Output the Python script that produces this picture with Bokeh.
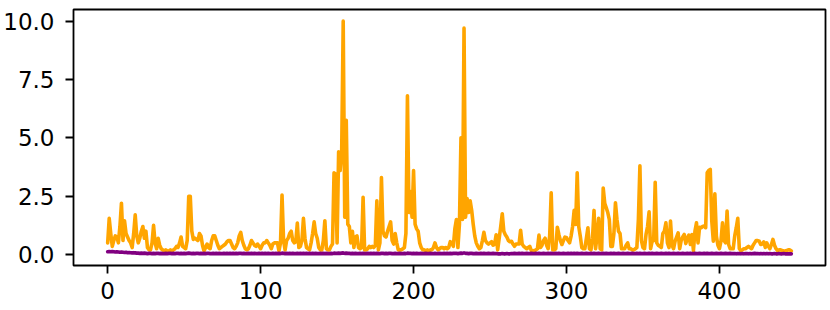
from bokeh.plotting import figure
from bokeh.models import Range1d, FixedTicker, PrintfTickFormatter
from bokeh.embed import file_html
from bokeh.resources import INLINE

# orange series (index 0..447)
orange_vals = [
    0.5, 1.55, 0.9, 0.35, 0.6, 0.8, 0.75, 0.5, 1.2, 2.2,
    0.6, 1.45, 0.9, 0.75, 0.6, 0.5, 0.3, 0.9, 1.7, 0.8,
    0.5, 0.7, 1.0, 1.2, 0.7, 1.0, 0.3, 0.2, 0.2, 0.5,
    1.25, 0.5, 0.25, 0.7, 0.4, 0.25, 0.2, 0.15, 0.2, 0.15,
    0.15, 0.2, 0.15, 0.2, 0.25, 0.35, 0.3, 0.5, 0.75, 0.35,
    0.3, 0.25, 0.6, 2.5, 2.5, 1.0, 0.65, 0.7, 0.65, 0.6,
    0.9, 0.8, 0.4, 0.15, 0.3, 0.45, 0.3, 0.25, 0.6, 0.8,
    0.8, 0.6, 0.4, 0.25, 0.3, 0.35, 0.4, 0.45, 0.55, 0.6,
    0.6, 0.45, 0.3, 0.25, 0.35, 0.5, 0.8, 0.95, 0.6, 0.4,
    0.25, 0.2, 0.25, 0.4, 0.6, 0.5, 0.4, 0.35, 0.45, 0.35,
    0.25, 0.4, 0.5, 0.5, 0.6, 0.5, 0.4, 0.25, 0.45, 0.5,
    0.5, 0.5, 0.15, 0.5, 2.55, 0.6, 0.2, 0.6, 0.7, 0.9,
    1.0, 0.6, 0.5, 0.55, 1.35, 0.3, 0.35, 0.6, 1.55, 0.7,
    0.3, 0.25, 0.2, 0.5, 0.9, 1.4, 0.9, 0.7, 0.3, 0.2,
    0.2, 0.6, 1.45, 0.25, 0.2, 0.2, 0.35, 0.45, 3.5, 3.45,
    0.5, 4.4, 3.6, 4.4, 10.0, 1.6, 5.75, 1.3, 1.2, 0.5,
    1.0, 0.3, 0.75, 0.8, 0.3, 0.25, 0.3, 2.45, 0.2, 0.2,
    0.25, 0.35, 0.3, 0.35, 0.3, 0.4, 2.3, 0.2, 0.5, 3.3,
    1.0, 0.8, 0.75, 1.0, 1.2, 1.4, 0.6, 0.45, 0.9, 0.5,
    0.2, 0.2, 0.2, 0.25, 0.3, 0.9, 6.8, 1.8, 2.7, 1.6,
    3.6, 1.3, 1.1, 1.0, 0.5, 0.3, 0.2, 0.2, 0.15, 0.2,
    0.15, 0.2, 0.2, 0.3, 0.5, 0.3, 0.2, 0.25, 0.3, 0.3,
    0.25, 0.3, 0.25, 0.3, 0.55, 0.5, 0.35, 1.1, 1.5, 0.3,
    1.3, 5.0, 1.5, 9.7, 1.6, 2.4, 1.8, 2.3, 1.9, 1.3,
    0.8, 0.5, 0.35, 0.25, 0.3, 0.6, 0.95, 0.6, 0.5, 0.45,
    0.5, 0.55, 0.4, 0.45, 0.85, 0.2, 0.7, 1.2, 1.75, 1.0,
    0.85, 0.75, 0.6, 0.55, 0.57, 0.45, 0.35, 0.45, 0.45, 0.45,
    1.04, 0.45, 0.35, 0.3, 0.25, 0.3, 0.35, 0.17, 0.15, 0.17,
    0.2, 0.25, 0.83, 0.3, 0.4, 0.6, 0.7, 0.4, 0.25, 0.8,
    2.65, 0.2, 0.2, 0.25, 1.17, 0.86, 0.6, 0.43, 0.6, 0.75,
    0.72, 0.6, 0.5, 0.79, 1.2, 1.89, 1.29, 3.5, 1.2, 0.79,
    0.3, 0.25, 0.25, 0.7, 1.15, 0.25, 0.2, 0.7, 1.89, 0.25,
    0.8, 1.55, 0.25, 0.2, 2.85, 2.2, 2.0, 1.8, 1.5, 0.35,
    0.35, 0.9, 2.22, 1.5, 1.0, 0.9, 0.25, 0.25, 0.25, 0.4,
    0.5, 0.25, 0.25, 0.2, 0.2, 0.25, 0.3, 1.5, 3.8, 0.6,
    0.3, 0.25, 0.86, 1.2, 1.83, 0.25, 0.57, 0.6, 3.1, 0.5,
    0.4, 0.35, 0.3, 0.9, 1.0, 1.36, 0.5, 0.3, 1.43, 0.4,
    0.25, 0.57, 0.75, 0.93, 0.25, 0.6, 0.75, 0.86, 0.47, 0.7,
    0.83, 0.43, 0.86, 0.17, 1.0, 1.36, 0.5, 1.17, 1.15, 1.2,
    1.22, 1.15, 3.5, 3.6, 3.65, 1.43, 0.57, 2.6, 0.79, 0.4,
    0.25, 0.57, 1.36, 0.6, 0.5, 1.86, 0.43, 0.25, 0.25, 0.25,
    0.8, 1.15, 1.55, 0.25, 0.17, 0.2, 0.25, 0.25, 0.3, 0.35,
    0.3, 0.25, 0.4, 0.5, 0.6, 0.6, 0.57, 0.43, 0.45, 0.54,
    0.3, 0.5, 0.35, 0.25, 0.43, 0.65, 0.4, 0.25, 0.17, 0.2,
    0.2, 0.17, 0.15, 0.15, 0.17, 0.2, 0.2, 0.15,
]

# purple series (index 0..447)
purple_vals = [
    0.12, 0.13, 0.12, 0.13, 0.12, 0.11, 0.12, 0.11, 0.10, 0.11,
    0.10, 0.09, 0.10, 0.08, 0.09, 0.08, 0.07, 0.08, 0.07, 0.06,
    0.06, 0.05, 0.06, 0.05, 0.06, 0.05, 0.04, 0.05, 0.05, 0.04,
    0.05, 0.04, 0.05, 0.05, 0.04, 0.05, 0.04, 0.04, 0.05, 0.04,
    0.05, 0.05, 0.04, 0.05, 0.04, 0.05, 0.05, 0.04, 0.05, 0.04,
    0.05, 0.04, 0.05, 0.06, 0.05, 0.04, 0.05, 0.04, 0.05, 0.05,
    0.04, 0.05, 0.04, 0.05, 0.04, 0.05, 0.05, 0.04, 0.04, 0.05,
    0.04, 0.05, 0.04, 0.05, 0.04, 0.04, 0.05, 0.04, 0.05, 0.04,
    0.05, 0.04, 0.05, 0.04, 0.05, 0.04, 0.05, 0.05, 0.04, 0.05,
    0.04, 0.04, 0.05, 0.04, 0.05, 0.04, 0.05, 0.04, 0.04, 0.05,
    0.04, 0.05, 0.04, 0.05, 0.04, 0.05, 0.04, 0.04, 0.05, 0.04,
    0.05, 0.04, 0.05, 0.04, 0.06, 0.05, 0.04, 0.05, 0.04, 0.05,
    0.04, 0.05, 0.04, 0.04, 0.05, 0.04, 0.05, 0.04, 0.05, 0.04,
    0.05, 0.04, 0.05, 0.04, 0.05, 0.04, 0.05, 0.04, 0.04, 0.05,
    0.04, 0.05, 0.04, 0.05, 0.04, 0.04, 0.05, 0.04, 0.06, 0.05,
    0.05, 0.06, 0.05, 0.06, 0.07, 0.05, 0.06, 0.05, 0.05, 0.04,
    0.05, 0.04, 0.05, 0.04, 0.04, 0.05, 0.04, 0.05, 0.04, 0.04,
    0.05, 0.04, 0.05, 0.04, 0.05, 0.04, 0.05, 0.04, 0.04, 0.05,
    0.05, 0.04, 0.05, 0.04, 0.05, 0.05, 0.04, 0.04, 0.05, 0.04,
    0.04, 0.05, 0.04, 0.04, 0.05, 0.04, 0.06, 0.05, 0.05, 0.04,
    0.05, 0.04, 0.05, 0.04, 0.04, 0.05, 0.04, 0.04, 0.05, 0.04,
    0.04, 0.05, 0.04, 0.04, 0.05, 0.04, 0.04, 0.05, 0.04, 0.04,
    0.05, 0.04, 0.05, 0.04, 0.05, 0.04, 0.05, 0.05, 0.05, 0.04,
    0.05, 0.06, 0.05, 0.07, 0.05, 0.05, 0.04, 0.05, 0.05, 0.04,
    0.04, 0.05, 0.04, 0.04, 0.05, 0.04, 0.05, 0.04, 0.04, 0.05,
    0.04, 0.04, 0.05, 0.04, 0.04, 0.03, 0.03, 0.03, 0.04, 0.03,
    0.03, 0.04, 0.03, 0.03, 0.04, 0.04, 0.05, 0.04, 0.04, 0.05,
    0.04, 0.05, 0.04, 0.04, 0.05, 0.04, 0.04, 0.05, 0.04, 0.04,
    0.05, 0.04, 0.05, 0.04, 0.04, 0.05, 0.04, 0.04, 0.05, 0.04,
    0.05, 0.04, 0.04, 0.05, 0.04, 0.05, 0.04, 0.04, 0.05, 0.04,
    0.04, 0.05, 0.04, 0.05, 0.04, 0.05, 0.04, 0.05, 0.04, 0.04,
    0.05, 0.04, 0.04, 0.05, 0.04, 0.04, 0.05, 0.04, 0.05, 0.04,
    0.04, 0.05, 0.04, 0.04, 0.05, 0.04, 0.05, 0.04, 0.04, 0.05,
    0.04, 0.05, 0.04, 0.04, 0.05, 0.04, 0.04, 0.05, 0.04, 0.04,
    0.05, 0.04, 0.04, 0.05, 0.04, 0.04, 0.05, 0.04, 0.05, 0.04,
    0.04, 0.05, 0.04, 0.04, 0.05, 0.04, 0.05, 0.04, 0.04, 0.05,
    0.04, 0.04, 0.05, 0.04, 0.04, 0.05, 0.04, 0.05, 0.04, 0.04,
    0.05, 0.04, 0.04, 0.05, 0.04, 0.04, 0.05, 0.04, 0.04, 0.05,
    0.04, 0.05, 0.04, 0.04, 0.05, 0.04, 0.04, 0.05, 0.04, 0.04,
    0.05, 0.04, 0.05, 0.04, 0.04, 0.05, 0.04, 0.04, 0.05, 0.04,
    0.04, 0.05, 0.04, 0.04, 0.05, 0.04, 0.04, 0.05, 0.04, 0.04,
    0.04, 0.03, 0.04, 0.04, 0.03, 0.04, 0.03, 0.04, 0.04, 0.03,
    0.04, 0.03, 0.04, 0.05, 0.04, 0.04, 0.03, 0.04, 0.03, 0.04,
    0.03, 0.04, 0.03, 0.04, 0.03, 0.03, 0.04, 0.03, 0.03, 0.04,
    0.03, 0.03, 0.04, 0.03, 0.03, 0.03, 0.03, 0.03,
]

x_ticks = [0, 100, 200, 300, 400]
y_ticks = [0, 2.5, 5, 7.5, 10]

idx = list(range(len(orange_vals)))

p = figure(width=830, height=310, output_backend="svg", toolbar_location=None,
           x_range=Range1d(-22.35, 469.35), y_range=Range1d(-0.47, 10.5),
           min_border_left=73, min_border_right=5, min_border_top=9,
           min_border_bottom=45)

p.line(idx, orange_vals, line_color="orange", line_width=3.6,
       line_join="round", line_cap="round")
p.line(idx, purple_vals, line_color="purple", line_width=3.6,
       line_join="round", line_cap="round")

p.grid.visible = False
p.outline_line_color = "black"
p.outline_line_width = 1.8
p.outline_line_alpha = 1.0
p.background_fill_color = "white"
p.border_fill_color = "white"

for ax in (p.xaxis[0], p.yaxis[0]):
    ax.axis_line_color = None
    ax.major_tick_line_color = "black"
    ax.major_tick_line_width = 1.8
    ax.major_tick_out = 8
    ax.major_tick_in = 0
    ax.minor_tick_line_color = None
    ax.major_label_text_font = "DejaVu Sans"
    ax.major_label_text_font_size = "23px"
    ax.major_label_text_color = "black"

p.xaxis[0].ticker = FixedTicker(ticks=x_ticks)
p.yaxis[0].ticker = FixedTicker(ticks=y_ticks)
p.yaxis[0].formatter = PrintfTickFormatter(format="%.1f")
p.xaxis[0].major_label_standoff = 8
p.yaxis[0].major_label_standoff = 11

open("out.html", "w").write(file_html(p, INLINE))
